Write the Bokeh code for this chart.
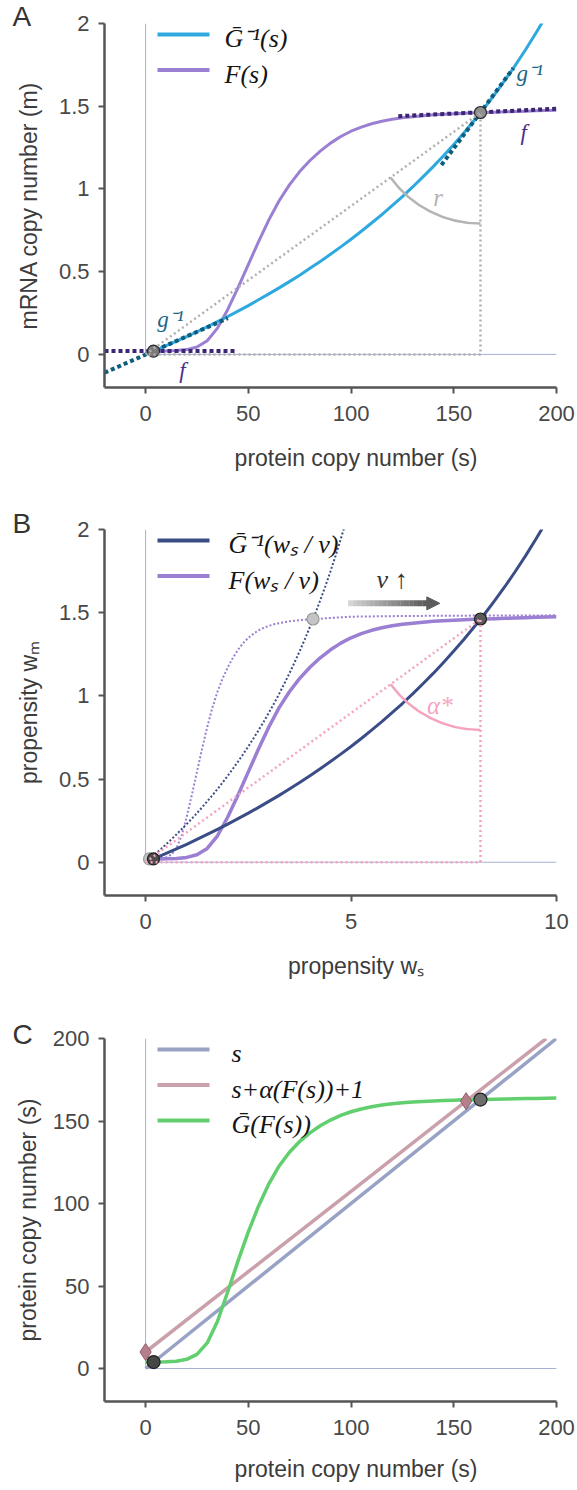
from math import atan2, pi
from bokeh.plotting import figure
from bokeh.layouts import column
from bokeh.models import Range1d, Label, Arrow, NormalHead, FixedTicker
from bokeh.embed import file_html
from bokeh.resources import INLINE

# ---------------- data ----------------
# protein copy number sample positions
S_F = [0, 5, 10, 15, 20, 25, 30, 35, 40, 45, 50, 55, 60, 65, 70, 75, 80, 85, 90, 95, 100,
       105, 110, 115, 120, 125, 130, 135, 140, 145, 150, 155, 160, 165, 170, 175, 180, 185, 190, 195, 200]
# F(s): mRNA copy number
F_VAL = [0.020, 0.020, 0.021, 0.023, 0.029, 0.045, 0.083, 0.159, 0.272, 0.404, 0.543, 0.682, 0.813,
         0.929, 1.025, 1.105, 1.172, 1.229, 1.277, 1.317, 1.349, 1.374, 1.394, 1.409, 1.421, 1.430,
         1.437, 1.443, 1.448, 1.452, 1.455, 1.458, 1.460, 1.462, 1.464, 1.466, 1.468, 1.470, 1.472,
         1.474, 1.476]
# G-bar inverse
S_G = [0, 5, 10, 15, 20, 25, 30, 35, 40, 45, 50, 55, 60, 65, 70, 75, 80, 85, 90, 95, 100,
       105, 110, 115, 120, 125, 130, 135, 140, 145, 150, 155, 160, 165, 170, 175, 180, 185, 190, 193]
G_INV = [0.000, 0.026, 0.053, 0.080, 0.108, 0.137, 0.167, 0.198, 0.229, 0.262, 0.295, 0.330, 0.366,
         0.402, 0.440, 0.479, 0.520, 0.562, 0.605, 0.650, 0.696, 0.744, 0.794, 0.845, 0.899, 0.954,
         1.012, 1.073, 1.135, 1.201, 1.269, 1.340, 1.415, 1.492, 1.574, 1.659, 1.749, 1.843, 1.943, 2.005]
# tangent segments in A
F_TAN_LO_S = [-20, 44]
F_TAN_LO_M = [0.02, 0.02]
G_TAN_LO_S = [-20, 40]
G_TAN_LO_M = [-0.111, 0.219]
F_TAN_HI_S = [123, 200]
F_TAN_HI_M = [1.44, 1.485]
G_TAN_HI_S = [144, 179]
G_TAN_HI_M = [1.145, 1.73]
# fixed points in A
A_FIX_S = [3.85, 163.0]
A_FIX_M = [0.02, 1.462]
A_FIX_COL = ["#7a7a7a", "#8f8f8f"]
# projection triangle in A
A_PROJ_S = [0, 163.0, 163.0, 0]
A_PROJ_M = [0, 1.462, 0, 0]

# panel B: propensities
WS_F = [0, 0.25, 0.5, 0.75, 1, 1.25, 1.5, 1.75, 2, 2.25, 2.5, 2.75, 3, 3.25, 3.5, 3.75, 4, 4.25,
        4.5, 4.75, 5, 5.25, 5.5, 5.75, 6, 6.25, 6.5, 6.75, 7, 7.25, 7.5, 7.75, 8, 8.25, 8.5, 8.75,
        9, 9.25, 9.5, 9.75, 10]
WM_F = list(F_VAL)
WS_G = [0, 0.25, 0.5, 0.75, 1, 1.25, 1.5, 1.75, 2, 2.25, 2.5, 2.75, 3, 3.25, 3.5, 3.75, 4, 4.25,
        4.5, 4.75, 5, 5.25, 5.5, 5.75, 6, 6.25, 6.5, 6.75, 7, 7.25, 7.5, 7.75, 8, 8.25, 8.5, 8.75,
        9, 9.25, 9.5, 9.65]
WM_G = list(G_INV)
WS_F_FAST = [0, 0.125, 0.25, 0.375, 0.5, 0.625, 0.75, 0.875, 1, 1.125, 1.25, 1.375, 1.5, 1.625,
             1.75, 1.875, 2, 2.125, 2.25, 2.375, 2.5, 2.625, 2.75, 2.875, 3, 3.125, 3.25, 3.375,
             3.5, 3.625, 3.75, 3.875, 4, 4.125, 4.25, 4.375, 4.5, 4.625, 4.75, 4.875, 5,
             6.25, 7.5, 10]
WM_F_FAST = F_VAL + [1.480, 1.482, 1.484]
WS_G_FAST = [0, 0.125, 0.25, 0.375, 0.5, 0.625, 0.75, 0.875, 1, 1.125, 1.25, 1.375, 1.5, 1.625,
             1.75, 1.875, 2, 2.125, 2.25, 2.375, 2.5, 2.625, 2.75, 2.875, 3, 3.125, 3.25, 3.375,
             3.5, 3.625, 3.75, 3.875, 4, 4.125, 4.25, 4.375, 4.5, 4.625, 4.75, 4.825]
WM_G_FAST = list(G_INV)
B_FIX_W = [0.096, 0.19, 4.075, 8.15]
B_FIX_WM = [0.02, 0.02, 1.462, 1.462]
B_FIX_COL = ["#c4c4c4", "#4d4d4d", "#c4c4c4", "#5a5a5a"]
B_FIX_EDGE = ["#9a9a9a", "#1e1e1e", "#9a9a9a", "#1e1e1e"]
B_PROJ_W = [0, 8.15, 8.15, 0]
B_PROJ_WM = [0, 1.462, 0, 0]
ARROW_W = [4.93, 6.84, 7.16]
ARROW_WM = 1.556

# panel C
C_S_X = [0, 200]
C_S_Y = [0, 200]
C_PINK_X = [0, 50, 100, 156, 195]
C_PINK_Y = [10, 58.7, 107.4, 162, 200]
C_GF = [3.86, 3.86, 4.05, 4.43, 5.57, 8.57, 15.51, 28.64, 46.52, 65.23, 82.81, 98.53, 111.91,
        122.74, 131.07, 137.61, 142.83, 147.10, 150.58, 153.40, 155.61, 157.31, 158.64, 159.64,
        160.43, 161.01, 161.47, 161.86, 162.18, 162.44, 162.63, 162.82, 162.95, 163.08, 163.20,
        163.33, 163.46, 163.59, 163.71, 163.84, 163.97]
C_DIAM_X = [0, 156]
C_DIAM_Y = [10, 162]
C_FIX_X = [3.9, 163.0]
C_FIX_Y = [3.9, 163.0]
C_FIX_COL = ["#464646", "#6e6e6e"]

# ticks
A_XTICKS = [0, 50, 100, 150, 200]
A_XLABELS = ["0", "50", "100", "150", "200"]
A_YTICKS = [0, 0.5, 1, 1.5, 2]
A_YLABELS = ["0", "0.5", "1", "1.5", "2"]
B_XTICKS = [0, 5, 10]
B_XLABELS = ["0", "5", "10"]
C_YTICKS = [0, 50, 100, 150, 200]
C_YLABELS = ["0", "50", "100", "150", "200"]

# ---------------- style ----------------
SANS = "Liberation Sans"
SERIF = "Liberation Serif"
AXIS_COL = "#555555"
TICK_TXT = "#484848"
LAB_TXT = "#3c3c3c"
THIN = "#a8b0d6"
FRAME_W = 452
LEFT = 104
RIGHT = 21
PAD = "\u00a0" * 8   # shifts the centred x label to the right, as in the original


def make_fig(frame_h, top, bottom, xr, yr):
    p = figure(frame_width=FRAME_W, frame_height=frame_h, min_border_left=LEFT,
               min_border_right=RIGHT, min_border_top=top, min_border_bottom=bottom,
               x_range=Range1d(*xr), y_range=Range1d(*yr), output_backend="svg",
               toolbar_location=None, tools="")
    p.outline_line_color = None
    p.grid.visible = False
    p.background_fill_color = "white"
    p.border_fill_color = "white"
    return p


def style_axes(p, xt, xl, yt, yl, xlab, ylab, xstand, ystand):
    p.xaxis.ticker = FixedTicker(ticks=xt)
    p.yaxis.ticker = FixedTicker(ticks=yt)
    p.xaxis.major_label_overrides = dict(zip(xt, xl))
    p.yaxis.major_label_overrides = dict(zip(yt, yl))
    p.xaxis.axis_label = xlab
    p.yaxis.axis_label = ylab
    for ax in (p.xaxis, p.yaxis):
        ax.axis_line_width = 2.5
        ax.axis_line_color = AXIS_COL
        ax.major_tick_line_color = AXIS_COL
        ax.major_tick_line_width = 2
        ax.major_tick_out = 6
        ax.major_tick_in = 0
        ax.minor_tick_line_color = None
        ax.major_label_text_font = SANS
        ax.major_label_text_font_size = "22px"
        ax.major_label_text_color = TICK_TXT
        ax.axis_label_text_font = SANS
        ax.axis_label_text_font_size = "23px"
        ax.axis_label_text_font_style = "normal"
        ax.axis_label_text_color = LAB_TXT
    p.xaxis.major_label_standoff = 12
    p.yaxis.major_label_standoff = 9
    p.xaxis.axis_label_standoff = xstand
    p.yaxis.axis_label_standoff = ystand


def panel_letter(p, letter, standoff):
    t = p.title
    t.text = letter
    t.align = "left"
    t.vertical_align = "bottom"
    t.offset = -92
    t.standoff = standoff
    t.text_font = SANS
    t.text_font_size = "28px"
    t.text_font_style = "normal"
    t.text_color = "#333333"


def legend(p, items, frame_h, text_x):
    for i, (txt, col) in enumerate(items):
        y = frame_h - 11 - 35.5 * i
        p.add_layout(Arrow(end=None, x_start=53, y_start=y, x_end=105, y_end=y,
                           start_units="screen", end_units="screen",
                           line_color=col, line_width=4))
        p.add_layout(Label(x=text_x, y=y - 4, x_units="screen", y_units="screen", text=txt,
                           text_font=SERIF, text_font_style="italic", text_font_size="26px",
                           text_color="#151515", text_align="left", text_baseline="middle"))


def dlabel(p, x, y, txt, col, size="23px", align="left"):
    p.add_layout(Label(x=x, y=y, text=txt, text_font=SERIF, text_font_style="italic",
                       text_font_size=size, text_color=col, text_align=align,
                       text_baseline="middle"))


def angle_arc(p, cx, cy, xr, yr, frame_h, col):
    px = FRAME_W / (xr[1] - xr[0])
    py = frame_h / (yr[1] - yr[0])
    a0 = atan2(-cy * py, -cx * px)
    p.arc(x=[cx], y=[cy], radius=111, radius_units="screen", start_angle=a0,
          end_angle=-pi / 2, line_color=col, line_width=2.5)


# ================= Panel A =================
AH = 364
A_XR = (-20, 200)
A_YR = (-0.2, 2)
pa = make_fig(AH, 23, 118, A_XR, A_YR)
style_axes(pa, A_XTICKS, A_XLABELS, A_YTICKS, A_YLABELS,
           PAD + "protein copy number (s)", "mRNA copy number (m)", 21, 14)
pa.line([0, 0], [0, 2], line_color=THIN, line_width=1)
pa.line([0, 200], [0, 0], line_color=THIN, line_width=1)
pa.line(S_F, F_VAL, line_color="#9a7fd2", line_width=3, line_join="round")
pa.line(S_G, G_INV, line_color="#2ea9df", line_width=3, line_join="round")
pa.line(F_TAN_LO_S, F_TAN_LO_M, line_color="#3b2574", line_width=4, line_dash="4 3")
pa.line(G_TAN_LO_S, G_TAN_LO_M, line_color="#0f5c7c", line_width=4, line_dash="4 3")
pa.line(F_TAN_HI_S, F_TAN_HI_M, line_color="#3b2574", line_width=4, line_dash="4 3")
pa.line(G_TAN_HI_S, G_TAN_HI_M, line_color="#0f5c7c", line_width=4, line_dash="4 3")
pa.scatter(A_FIX_S, A_FIX_M, size=12, fill_color=A_FIX_COL, line_color="#2a2a2a", line_width=1.2)
pa.line(A_PROJ_S, A_PROJ_M, line_color="#b0b0b0", line_width=2.5, line_dash="2 3")
angle_arc(pa, A_FIX_S[1], A_FIX_M[1], A_XR, A_YR, AH, "#b4b4b4")
dlabel(pa, 5.7, 0.21, "g⁻¹", "#1a6687")
dlabel(pa, 16.4, -0.1, "f", "#4b2f8a")
dlabel(pa, 180.5, 1.70, "g⁻¹", "#1a6687")
dlabel(pa, 182.5, 1.34, "f", "#4b2f8a")
dlabel(pa, 140, 0.95, "r", "#b4b4b4", "25px")
legend(pa, [("Ḡ⁻¹(s)", "#2ea9df"), ("F(s)", "#9a7fd2")], AH, 120)
panel_letter(pa, "A", -16)

# ================= Panel B =================
BH = 366
B_XR = (-1, 10)
B_YR = (-0.2, 2)
pb = make_fig(BH, 24, 119, B_XR, B_YR)
style_axes(pb, B_XTICKS, B_XLABELS, A_YTICKS, A_YLABELS,
           PAD + "propensity wₛ", "propensity wₘ", 21, 14)
pb.line([0, 0], [0, 2], line_color=THIN, line_width=1)
pb.line([0, 10], [0, 0], line_color=THIN, line_width=1)
pb.line(WS_F_FAST, WM_F_FAST, line_color="#9a7fd2", line_width=2, line_dash="2 2")
pb.line(WS_G_FAST, WM_G_FAST, line_color="#3b4d86", line_width=2, line_dash="2 2")
pb.line(WS_F, WM_F, line_color="#9a7fd2", line_width=3.5, line_join="round")
pb.line(WS_G, WM_G, line_color="#3b4d86", line_width=3, line_join="round")
pb.scatter(B_FIX_W, B_FIX_WM, size=12, fill_color=B_FIX_COL, line_color=B_FIX_EDGE, line_width=1.2)
pb.line(B_PROJ_W, B_PROJ_WM, line_color="#f5a4bf", line_width=2.5, line_dash="2 3")
angle_arc(pb, B_FIX_W[3], B_FIX_WM[3], B_XR, B_YR, BH, "#f5a4bf")
dlabel(pb, 6.85, 0.94, "α*", "#f5a4bf", "25px")
# gradient arrow (v increases)
nseg = 18
x0, x1 = ARROW_W[0], ARROW_W[1]
xs0 = [x0 + (x1 - x0) * i / nseg for i in range(nseg)]
xs1 = [x0 + (x1 - x0) * (i + 1.05) / nseg for i in range(nseg)]
cols = []
for i in range(nseg):
    g = int(0xd4 - (0xd4 - 0x5c) * i / (nseg - 1))
    cols.append("#%02x%02x%02x" % (g, g, g))
pb.segment(x0=xs0, y0=[ARROW_WM] * nseg, x1=xs1, y1=[ARROW_WM] * nseg,
           line_color=cols, line_width=6, line_cap="butt")
pb.add_layout(Arrow(end=NormalHead(size=13, fill_color="#5c5c5c", line_color="#5c5c5c",
                                   line_width=1),
                    x_start=ARROW_W[1], y_start=ARROW_WM, x_end=ARROW_W[2], y_end=ARROW_WM,
                    line_alpha=0))
pb.add_layout(Label(x=6.0, y=1.70, text="v ↑", text_font=SERIF, text_font_style="italic",
                    text_font_size="26px", text_color="#333333", text_align="center",
                    text_baseline="middle"))
legend(pb, [("Ḡ⁻¹(wₛ / v)", "#3b4d86"), ("F(wₛ / v)", "#9a7fd2")], BH, 124)
panel_letter(pb, "B", -18)

# ================= Panel C =================
CH = 363
C_XR = (-20, 200)
C_YR = (-20, 200)
pc = make_fig(CH, 24, 87, C_XR, C_YR)
style_axes(pc, A_XTICKS, A_XLABELS, C_YTICKS, C_YLABELS,
           PAD + "protein copy number (s)", "protein copy number (s)", 18, 9)
pc.line([0, 0], [0, 200], line_color=THIN, line_width=1)
pc.line([0, 200], [0, 0], line_color=THIN, line_width=1)
pc.line(C_S_X, C_S_Y, line_color="#97a2c5", line_width=3.5)
pc.line(C_PINK_X, C_PINK_Y, line_color="#caa0aa", line_width=3.5)
pc.line(S_F, C_GF, line_color="#62cf6e", line_width=3.5, line_join="round")
pc.scatter(C_DIAM_X, C_DIAM_Y, marker="diamond", size=17, fill_color="#b5808b",
           line_color="#8f5f6a", line_width=1)
pc.scatter(C_FIX_X, C_FIX_Y, size=13, fill_color=C_FIX_COL, line_color="#222222", line_width=1.2)
legend(pc, [("s", "#97a2c5"), ("s+α(F(s))+1", "#caa0aa"), ("Ḡ(F(s))", "#62cf6e")], CH, 127)
panel_letter(pc, "C", -22)

layout = column(pa, pb, pc, spacing=0)
open("out.html", "w").write(file_html(layout, INLINE))
